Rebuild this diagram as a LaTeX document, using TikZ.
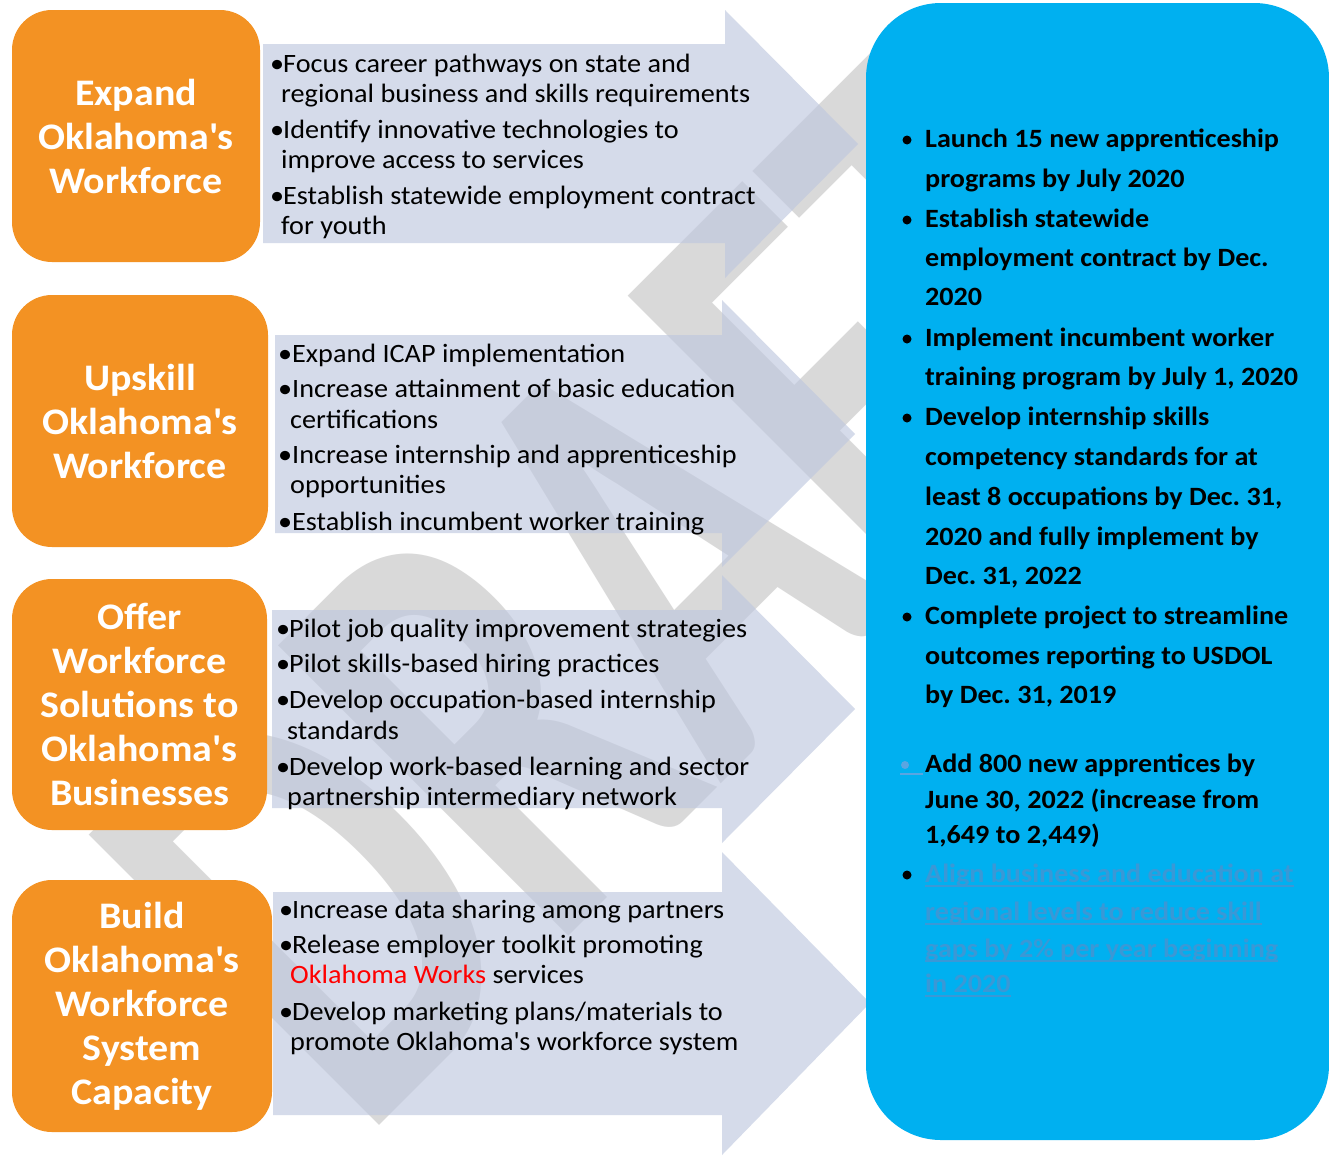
\documentclass[tikz,border=0pt]{standalone}
\usepackage{fontspec}
\setmainfont[FakeStretch=1.065]{Carlito}
\newfontfamily\wmfont{Carlito}
\usetikzlibrary{calc}
\definecolor{orng}{RGB}{243,146,35}
\definecolor{skyb}{RGB}{0,176,240}
\definecolor{arrowc}{RGB}{190,199,223}
\definecolor{wmgray}{RGB}{217,217,217}
\definecolor{fadeb}{RGB}{58,152,214}
\definecolor{fadedot}{RGB}{90,165,225}
\definecolor{okred}{RGB}{255,0,0}
\newcommand{\sq}{\textquotesingle}
\newcommand{\arrowlines}[4]{%
  \foreach [count=\i] \k/\yy/\linetext in {#4}{%
    \ifnum\k=1
      \node[atxt] (#1b\i) at (#2,\yy) {\textbullet};
      \node[atxt] (#1t\i) at (#3,\yy) {\linetext};
    \else
      \node[atxt] (#1t\i) at (#3-2,\yy) {\linetext};
    \fi
  }%
}
\frenchspacing
\begin{document}
\begin{tikzpicture}[x=1pt,y=-1pt,
  obox/.style={fill=orng, rounded corners=40pt, inner sep=0pt, align=center, text=white,
    font=\fontsize{37.5}{44}\selectfont\bfseries},
  arw/.style={fill=arrowc, fill opacity=0.63},
  atxt/.style={font=\fontsize{26.5}{30}\selectfont\frenchspacing, inner sep=0pt, anchor=base west},
  btxt/.style={font=\fontsize{26.4}{39}\selectfont\bfseries\frenchspacing, inner sep=0pt, anchor=base west},
  wm/.style={text=wmgray, inner sep=0pt, anchor=base west, rotate=45, yscale=1.49,
    font=\fontsize{425}{425}\selectfont\wmfont\bfseries},
]
\useasboundingbox (0,0) rectangle (1329,1157);
\fill[white] (0,0) rectangle (1329,1157);

% watermark
\begin{scope}
\clip (0,0) rectangle (1329,1157);
\node[wm] (wm) at (362,1143) {DRAFT};
\end{scope}

% arrows
\path[arw] (263,44) -- (725,44) -- (725,10) -- (858,144) -- (725,278) -- (725,243) -- (263,243) -- cycle;
\path[arw] (275,335) -- (722,335) -- (722,300) -- (855,434) -- (722,567) -- (722,533) -- (275,533) -- cycle;
\path[arw] (272,610) -- (722,610) -- (722,575) -- (855,709) -- (722,843) -- (722,808) -- (272,808) -- cycle;
\path[arw] (273,892) -- (722,892) -- (722,852) -- (870,1003) -- (722,1155) -- (722,1115) -- (273,1115) -- cycle;

% orange boxes
\node[obox, minimum width=248pt, minimum height=252pt] (o1) at (136,136) {Expand\\Oklahoma\sq s\\Workforce};
\node[obox, minimum width=256pt, minimum height=252pt] (o2) at (140,421) {Upskill\\Oklahoma\sq s\\Workforce};
\node[obox, minimum width=255pt, minimum height=251pt] (o3) at (139.5,704.5) {Offer\\Workforce\\Solutions to\\Oklahoma\sq s\\Businesses};
\node[obox, minimum width=260pt, minimum height=252pt] (o4) at (142,1006) {Build\\Oklahoma\sq s\\Workforce\\System\\Capacity};

% blue box
\path[fill=skyb, rounded corners=75pt] (866,3) rectangle (1329,1140);

% arrow texts
\arrowlines{a}{270}{283}{1/72/{Focus career pathways on state and},0/102/{regional business and skills requirements},1/138/{Identify innovative technologies to},0/168/{improve access to services},1/204/{Establish statewide employment contract},0/234/{for youth}}
\arrowlines{c}{278}{292}{1/362/{Expand ICAP implementation},1/397/{Increase attainment of basic education},0/428/{certifications},1/463/{Increase internship and apprenticeship},0/493/{opportunities},1/530/{Establish incumbent worker training}}
\arrowlines{d}{276}{289}{1/637/{Pilot job quality improvement strategies},1/672/{Pilot skills-based hiring practices},1/708/{Develop occupation-based internship},0/739/{standards},1/775/{Develop work-based learning and sector},0/805/{partnership intermediary network}}
\arrowlines{e}{279}{292}{1/918/{Increase data sharing among partners},1/953/{Release employer toolkit promoting},0/983/{\textcolor{okred}{Oklahoma Works} services},1/1020/{Develop marketing plans/materials to},0/1050/{promote Oklahoma\sq s workforce system}}

% blue box text
\foreach [count=\i] \yy/\linetext in {147/{Launch 15 new apprenticeship},187/{programs by July 2020},227/{Establish statewide},266/{employment contract by Dec.},305/{2020},346/{Implement incumbent worker},385/{training program by July 1, 2020},425/{Develop internship skills},465/{competency standards for at},505/{least 8 occupations by Dec. 31,},545/{2020 and fully implement by},584/{Dec. 31, 2022},624/{Complete project to streamline},664/{outcomes reporting to USDOL},703/{by Dec. 31, 2019},772/{Add 800 new apprentices by},808/{June 30, 2022 (increase from},843/{1,649 to 2,449)}}
  \node[btxt] (r\i) at (925,\yy) {\linetext};
\foreach \yy in {147,227,346,425,624,882}
  \fill (907,\yy-7) circle (4.5);
\fill[fadedot] (905,765) circle (4);
\draw[fadedot, line width=1.5pt] (900,774) -- (923,774);
\foreach [count=\i] \yy/\linetext in {882/{Align business and education at},920/{regional levels to reduce skill},957/{gaps by 2\% per year beginning},992/{in 2020}}{
  \node[btxt, text=fadeb] (f\i) at (925,\yy) {\linetext};
  \draw[fadeb, line width=1.5pt] ($(f\i.base west)+(0,4)$) -- ($(f\i.base east)+(0,4)$);
}
\end{tikzpicture}
\end{document}
